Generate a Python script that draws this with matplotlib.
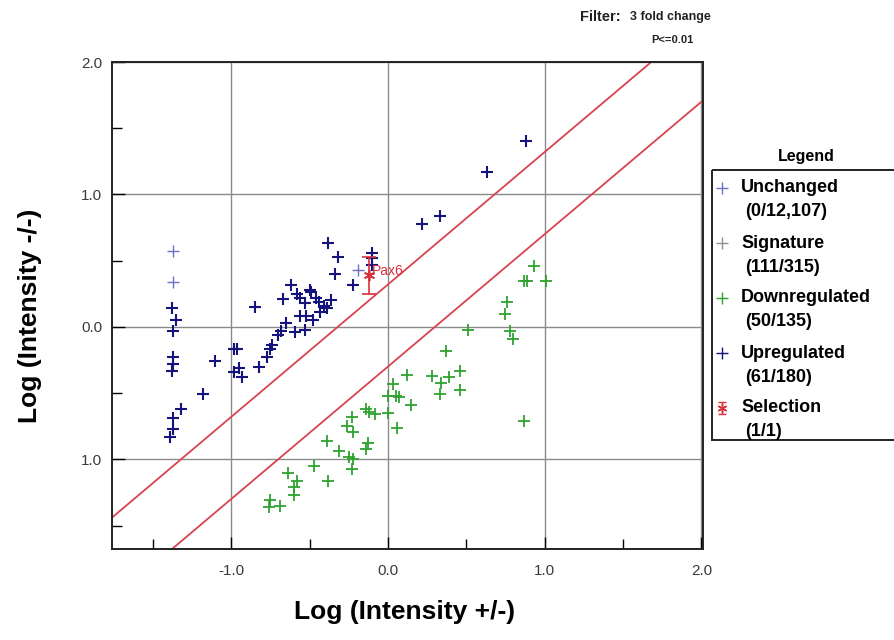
import matplotlib
matplotlib.use("Agg")
import matplotlib.pyplot as plt
from matplotlib.patches import Rectangle
import numpy as np

plt.rcParams['font.family'] = ['Liberation Sans', 'DejaVu Sans']

# --- data (log units) ---
unchanged_x = [-1.37, -1.37, -0.19]
unchanged_y = [0.57, 0.34, 0.43]

up_x = [-1.38, -1.35, -1.37, -1.37, -1.37, -1.38, -1.10, -1.18, -1.32, -1.37, -1.37, -1.39,
        -0.85, -0.98, -0.96, -0.95, -0.98, -0.93, -0.82, -0.38, -0.32, -0.34, -0.22, -0.10,
        -0.10, -0.10, -0.62, -0.67, -0.58, -0.56, -0.53, -0.50, -0.49, -0.46, -0.44, -0.41,
        -0.39, -0.36, -0.43, -0.56, -0.52, -0.48, -0.53, -0.59, -0.65, -0.68, -0.70, -0.74,
        -0.75, -0.77, 0.88, 0.63, 0.22, 0.33]
up_y = [0.14, 0.05, -0.03, -0.23, -0.28, -0.33, -0.26, -0.51, -0.62, -0.69, -0.77, -0.83,
        0.15, -0.17, -0.17, -0.31, -0.34, -0.38, -0.30, 0.63, 0.53, 0.40, 0.32, 0.56,
        0.52, 0.47, 0.32, 0.21, 0.25, 0.22, 0.18, 0.28, 0.26, 0.22, 0.19, 0.16,
        0.14, 0.20, 0.11, 0.08, 0.08, 0.05, -0.02, -0.04, 0.03, -0.03, -0.06, -0.14,
        -0.17, -0.23, 1.40, 1.17, 0.78, 0.84]

down_x = [0.93, 0.87, 0.89, 1.01, 0.76, 0.75, 0.51, 0.78, 0.80, 0.37, 0.46, 0.12, 0.28,
          0.39, 0.34, 0.33, 0.46, 0.03, 0.00, 0.05, 0.07, 0.15, 0.00, 0.06, 0.87, -0.14,
          -0.12, -0.08, -0.23, -0.26, -0.22, -0.39, -0.13, -0.14, -0.31, -0.25, -0.22,
          -0.23, -0.47, -0.64, -0.38, -0.58, -0.60, -0.60, -0.75, -0.69, -0.76]
down_y = [0.46, 0.35, 0.35, 0.35, 0.19, 0.10, -0.02, -0.03, -0.09, -0.18, -0.33, -0.36, -0.37,
          -0.38, -0.42, -0.51, -0.48, -0.43, -0.52, -0.52, -0.53, -0.59, -0.65, -0.76, -0.71, -0.62,
          -0.64, -0.66, -0.68, -0.75, -0.79, -0.86, -0.88, -0.92, -0.94, -0.98, -1.00,
          -1.07, -1.05, -1.10, -1.16, -1.16, -1.21, -1.27, -1.31, -1.35, -1.36]

sel_x, sel_y, sel_err, sel_name = -0.12, 0.39, 0.14, "Pax6"

fold_offsets = [0.32, -0.30]   # the two 3-fold lines: y = x + offset

legend_names = ["Unchanged", "Signature", "Downregulated", "Upregulated", "Selection"]
legend_counts = ["(0/12,107)", "(111/315)", "(50/135)", "(61/180)", "(1/1)"]

x_ticks = [-1.0, 0.0, 1.0, 2.0]
x_ticklabels = ["-1.0", "0.0", "1.0", "2.0"]
y_ticks = [2.0, 1.0, 0.0, -1.0]
y_ticklabels = ["2.0", "1.0", "0.0", "1.0"]

c_unch = "#6f6fc4"
c_sig = "#909090"
c_down = "#2fa22f"
c_up = "#14147c"
c_sel = "#d8303c"
c_line = "#d8434f"

fig = plt.figure(figsize=(8.94, 6.4), dpi=100)
ax = fig.add_axes([112 / 894, 1 - 549 / 640, (703 - 112) / 894, (549 - 62) / 640])

ax.set_xlim(-1.76, 2.01)
ax.set_ylim(-1.677, 1.99)

# grid + ticks
ax.set_xticks(x_ticks)
ax.set_xticklabels(x_ticklabels)
ax.set_yticks(y_ticks)
ax.set_yticklabels(y_ticklabels)
ax.set_xticks([-1.5, -0.5, 0.5, 1.5], minor=True)
ax.set_yticks([1.5, 0.5, -0.5, -1.5], minor=True)
ax.grid(True, which='major', color='#8a8a8a', linewidth=1.0)
ax.tick_params(which='major', direction='in', length=9, width=1.0, labelsize=11,
               labelcolor='#3a3a3a')
ax.tick_params(axis='x', which='major', pad=11)
ax.tick_params(axis='y', which='major', pad=7)
ax.tick_params(which='minor', direction='in', length=7, width=1.0)
for s in ax.spines.values():
    s.set_linewidth(1.4)
    s.set_color('#222222')

# fold change lines
xl = np.array(ax.get_xlim())
for off in fold_offsets:
    ax.plot(xl, xl + off, color=c_line, linewidth=1.3, zorder=2)

ax.plot(unchanged_x, unchanged_y, '+', color=c_unch, markersize=8, mew=1.0, zorder=3)
ax.plot(down_x, down_y, '+', color=c_down, markersize=9, mew=1.3, zorder=3)
ax.plot(up_x, up_y, '+', color=c_up, markersize=9, mew=1.5, zorder=3)

ax.errorbar([sel_x], [sel_y], yerr=[sel_err], fmt='none', ecolor=c_sel,
            capsize=5, elinewidth=1.2, capthick=1.2, zorder=4)
ax.plot([sel_x], [sel_y], marker=(6, 2, 0), color=c_sel, markersize=8, mew=1.2, zorder=5)
ax.text(sel_x + 0.02, sel_y + 0.03, sel_name, color=c_sel, fontsize=10, va='center', zorder=4)

# axis titles
fig.text(30 / 894, 1 - 316 / 640, "Log (Intensity -/-)", rotation=90, ha='center', va='center',
         fontsize=19, fontweight='bold')
fig.text(405 / 894, 1 - 612 / 640, "Log (Intensity +/-)", ha='center', va='center',
         fontsize=19, fontweight='bold')

# filter text
fig.text(580 / 894, 1 - 17 / 640, "Filter:", fontsize=10.5, fontweight='bold', va='center',
         color='#222222')
fig.text(630 / 894, 1 - 17 / 640, "3 fold change", fontsize=9, fontweight='bold', va='center',
         color='#222222')
fig.text(651 / 894, 1 - 40 / 640, "P<=0.01", fontsize=8, fontweight='bold', va='center',
         color='#222222')

# legend panel
lax = fig.add_axes([0, 0, 1, 1], facecolor='none')
lax.set_xlim(0, 894)
lax.set_ylim(640, 0)
lax.axis('off')
lax.add_patch(Rectangle((712, 170), 200, 270, fill=False, edgecolor='#222222',
                        linewidth=1.4, clip_on=False))
lax.text(806, 156, "Legend", ha='center', va='center', fontsize=11.5, fontweight='bold')
marker_colors = [c_unch, c_sig, c_down, c_up, c_sel]
for i, (name, cnt) in enumerate(zip(legend_names, legend_counts)):
    y0 = 188 + i * 55
    if name == "Selection":
        lax.errorbar([722], [y0], yerr=[6], fmt='none', ecolor=c_sel, capsize=3,
                     elinewidth=1.0)
        lax.plot([722], [y0], marker=(6, 2, 0), color=c_sel, markersize=7, mew=1.0)
    else:
        lax.plot([722], [y0], '+', color=marker_colors[i], markersize=8, mew=1.0)
    lax.text(741, y0, name, fontsize=13, fontweight='bold', va='center')
    lax.text(745, y0 + 24, cnt, fontsize=13, fontweight='bold', va='center')

fig.savefig("out.png", dpi=100)
